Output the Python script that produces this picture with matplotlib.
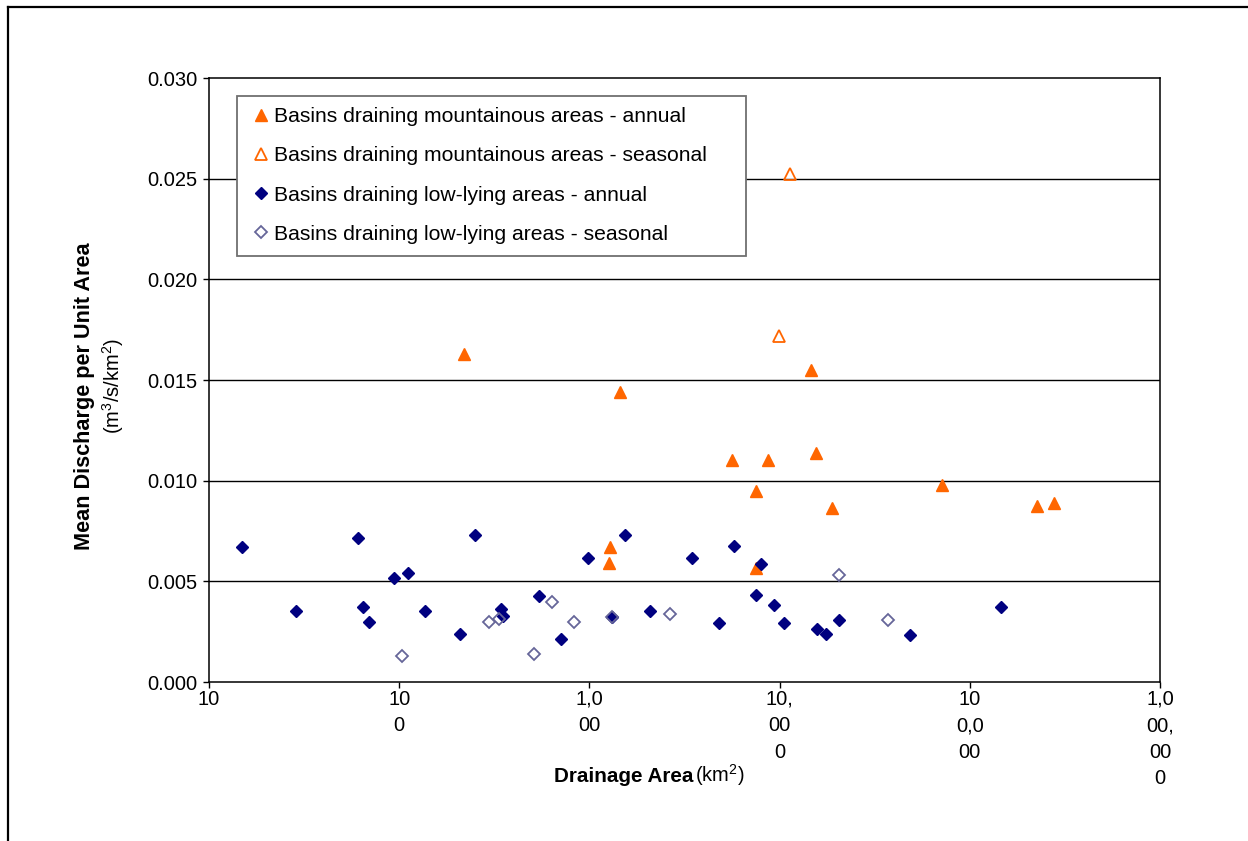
import matplotlib
matplotlib.use('Agg')
import matplotlib.pyplot as plt
from matplotlib.lines import Line2D
from matplotlib.patches import Rectangle
from matplotlib.ticker import NullLocator, FormatStrFormatter

plt.rcParams['font.family'] = ['Liberation Sans', 'DejaVu Sans']
plt.rcParams['mathtext.fontset'] = 'custom'
plt.rcParams['mathtext.rm'] = 'Liberation Sans'
plt.rcParams['mathtext.it'] = 'Liberation Sans'
plt.rcParams['mathtext.bf'] = 'Liberation Sans:bold'

# drainage area (km2) and mean discharge per unit area (m3/s/km2)
mtn_annual_area = [219, 1449, 14690, 15490, 5600, 8730, 7480, 71600, 18840,
                   226500, 277000, 7480, 1283, 1262]
mtn_annual_q = [0.01629, 0.01440, 0.01550, 0.01136, 0.01103, 0.01103, 0.00949,
                0.00978, 0.00863, 0.00874, 0.00891, 0.00565, 0.00669, 0.00593]

mtn_seasonal_area = [11350, 9950]
mtn_seasonal_q = [0.02523, 0.01720]

low_annual_area = [15.0, 60.5, 249, 94.2, 111.6, 979, 1535, 28.6, 64.3, 69.3,
                   137, 208, 344, 352, 546, 706, 1318, 2085, 3450, 5740,
                   7980, 7480, 9310, 4800, 10540, 15670, 17530, 20600, 48500,
                   145300]
low_annual_q = [0.00669, 0.00714, 0.00730, 0.00515, 0.00543, 0.00617, 0.00730,
                0.00354, 0.00371, 0.00300, 0.00354, 0.00237, 0.00364, 0.00329,
                0.00427, 0.00212, 0.00324, 0.00354, 0.00617, 0.00677, 0.00586,
                0.00434, 0.00381, 0.00292, 0.00292, 0.00265, 0.00237, 0.00308,
                0.00235, 0.00371]

low_seasonal_area = [104, 296, 335, 509, 638, 830, 1318, 2655, 20600, 37150]
low_seasonal_q = [0.00131, 0.00300, 0.00313, 0.00138, 0.00399, 0.00300,
                  0.00321, 0.00336, 0.00531, 0.00308]

x_ticks = [10, 100, 1000, 10000, 100000, 1000000]
x_ticklabels = ['10', '10\n0', '1,0\n00', '10,\n00\n0', '10\n0,0\n00', '1,0\n00,\n00\n0']
y_ticks = [0.0, 0.005, 0.010, 0.015, 0.020, 0.025, 0.030]

ORANGE = '#FF6600'
NAVY = '#000080'
LAVENDER = '#666699'

W, H = 1248, 841
fig = plt.figure(figsize=(W / 100, H / 100), dpi=100)
# plot area in pixels: x 209..1160, y 78..682
ax = fig.add_axes([209/W, 1 - 682/H, 951/W, 604/H])

ax.plot(mtn_annual_area, mtn_annual_q, linestyle='none', marker='^', ms=9,
        color=ORANGE, mec=ORANGE, label='Basins draining mountainous areas - annual', zorder=3)
ax.plot(mtn_seasonal_area, mtn_seasonal_q, linestyle='none', marker='^', ms=8.5,
        mfc='none', mec=ORANGE, mew=1.3, label='Basins draining mountainous areas - seasonal', zorder=3)
ax.plot(low_annual_area, low_annual_q, linestyle='none', marker='D', ms=6.4,
        color=NAVY, mec=NAVY, label='Basins draining low-lying areas - annual', zorder=3)
ax.plot(low_seasonal_area, low_seasonal_q, linestyle='none', marker='D', ms=5.8,
        mfc='none', mec=LAVENDER, mew=1.3, label='Basins draining low-lying areas - seasonal', zorder=3)

ax.set_xscale('log')
ax.set_xlim(10, 1000000)
ax.set_ylim(0, 0.030)
ax.set_xticks(x_ticks)
ax.set_xticklabels(x_ticklabels, linespacing=1.5, va='top')
ax.xaxis.set_minor_locator(NullLocator())
ax.set_yticks(y_ticks)
ax.yaxis.set_major_formatter(FormatStrFormatter('%.3f'))
ax.tick_params(axis='both', direction='out', length=4.5, width=1.0, labelsize=14.5, colors='black')
ax.tick_params(axis='y', pad=4)
ax.tick_params(axis='x', pad=1)

for yv in y_ticks[1:-1]:
    ax.axhline(yv, color='black', lw=1.0, zorder=1)
for sp in ax.spines.values():
    sp.set_linewidth(1.1)
    sp.set_color('black')

# legend box drawn separately so its padding matches the original
box = Rectangle((28/951, (682 - 256)/604), 509/951, 160/604, transform=ax.transAxes,
                facecolor='white', edgecolor='#707070', lw=1.3, zorder=4)
ax.add_patch(box)
leg = ax.legend(loc='upper left', bbox_to_anchor=((252.5 - 209)/951, (682 - 107)/604),
                borderaxespad=0, borderpad=0, frameon=False, numpoints=1, fontsize=15.2,
                handlelength=0.8, handletextpad=0.21, labelspacing=0.96)
leg.set_zorder(5)

# axis titles
fig.text(85/W, 1 - 396/H, 'Mean Discharge per Unit Area', rotation=90,
         ha='center', va='center', fontsize=15.6, fontweight='bold')
fig.text(113/W, 1 - 386/H, r'(m$^{3}$/s/km$^{2}$)', rotation=90,
         ha='center', va='center', fontsize=14.5)
fig.text(693/W, 1 - 782/H, 'Drainage Area', ha='right', va='baseline',
         fontsize=14.9, fontweight='bold')
fig.text(695/W, 1 - 782/H, r'(km$^{2}$)', ha='left', va='baseline', fontsize=14.5)

# outer chart frame
fig.add_artist(Line2D([8/W, 8/W], [0, 1 - 7/H], color='black', lw=1.6,
                      transform=fig.transFigure))
fig.add_artist(Line2D([8/W, 1], [1 - 7/H, 1 - 7/H], color='black', lw=1.6,
                      transform=fig.transFigure))

fig.savefig('out.png', dpi=100)
